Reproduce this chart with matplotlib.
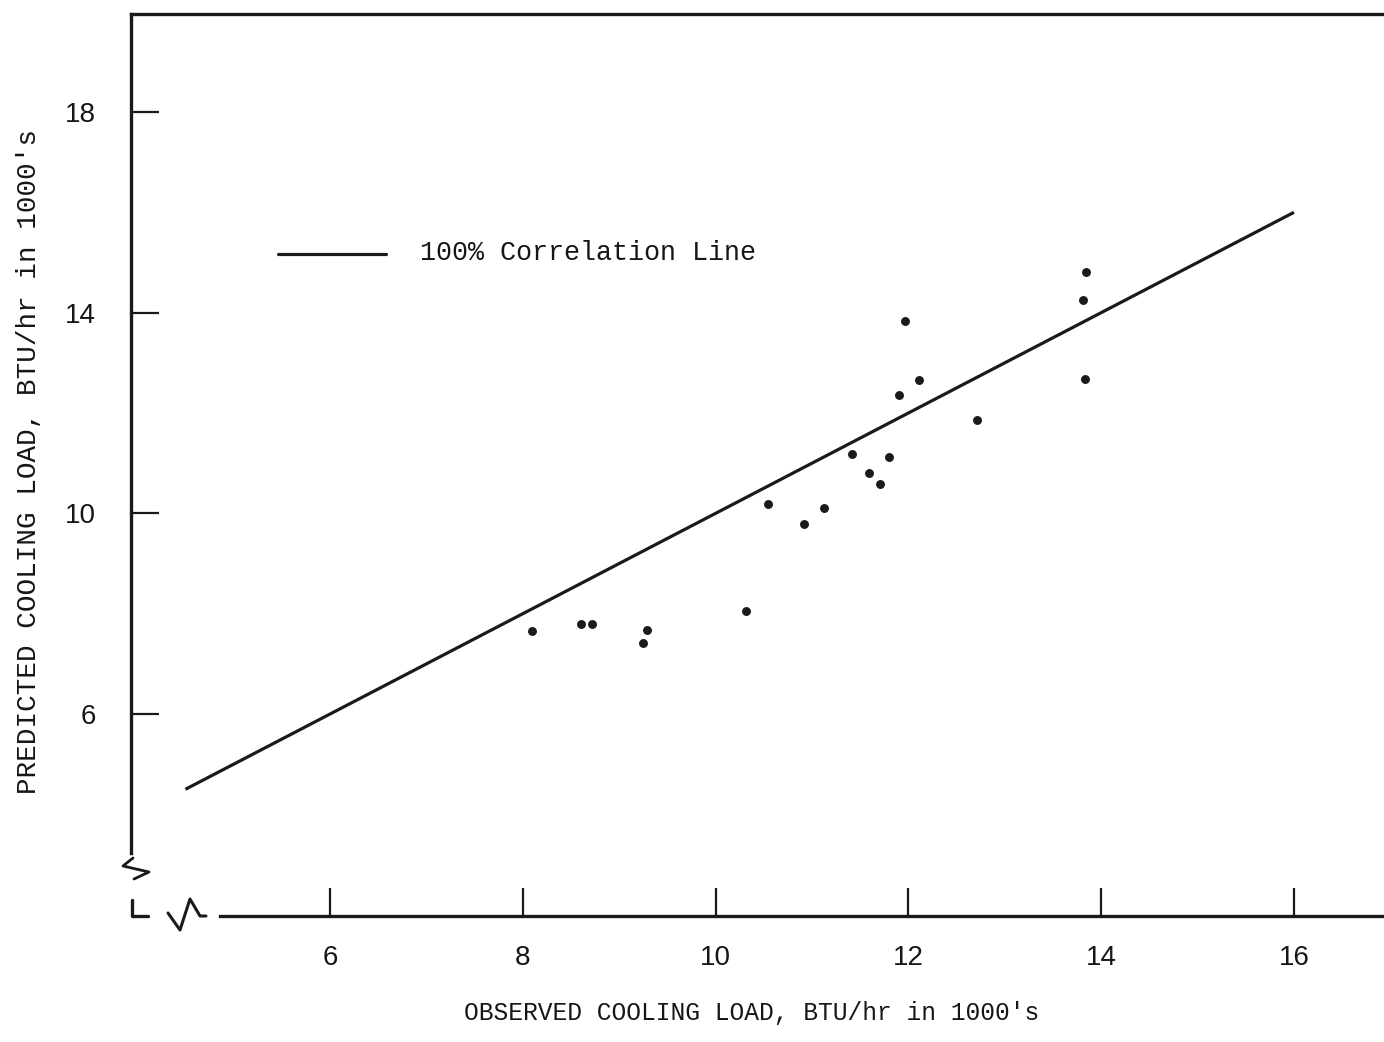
import matplotlib
matplotlib.use("Agg")
import matplotlib.pyplot as plt
from matplotlib.lines import Line2D

# ---- data ----
observed = [8.09, 8.60, 8.72, 9.29, 9.25, 10.32, 10.54, 10.92, 11.12, 11.41,
            11.80, 11.59, 11.71, 12.71, 13.84, 13.81, 13.83, 11.96, 12.11, 11.90]
predicted = [7.66, 7.79, 7.79, 7.67, 7.41, 8.06, 10.18, 9.79, 10.11, 11.18,
             11.12, 10.80, 10.58, 11.86, 14.82, 14.25, 12.68, 13.84, 12.65, 12.36]
corr_line = [4.5, 16.0]
xticks = [6, 8, 10, 12, 14, 16]
yticks = [6, 10, 14, 18]

W, H = 1384, 1042
INK = "#1a1a1a"
TXT = "#161616"
fig = plt.figure(figsize=(W / 100, H / 100), dpi=100)
fig.patch.set_facecolor("white")

def fx(px):
    return px / W

def fy(py):
    return 1 - py / H

# axes box in pixels: left 131, right 1384, top 14, bottom 916
ax = fig.add_axes([fx(131), fy(916), fx(1384 - 131), (916 - 14) / H])
ax.set_xlim(3.935, 16.934)
ax.set_ylim(1.974, 19.953)
ax.set_facecolor("none")

ax.plot(corr_line, corr_line, color=INK, lw=2.3, solid_capstyle="butt")
ax.plot(observed, predicted, "o", color=INK, ms=5.4, mec=INK)

ax.spines["right"].set_visible(False)
for s in ["top", "left", "bottom"]:
    ax.spines[s].set_linewidth(2.4)
    ax.spines[s].set_color(INK)
ax.spines["left"].set_bounds(3.23, 19.953)
ax.spines["bottom"].set_bounds(4.86, 16.934)

ax.set_xticks(xticks)
ax.set_yticks(yticks)
ax.set_xticklabels([str(v) for v in xticks])
ax.set_yticklabels([str(v) for v in yticks])
ax.tick_params(direction="in", length=20, width=1.6, color=INK,
               labelsize=20, labelcolor=TXT)
ax.tick_params(axis="x", pad=21)
ax.tick_params(axis="y", pad=25)
for lab in ax.get_xticklabels() + ax.get_yticklabels():
    lab.set_family("Liberation Sans")

# axis break marks (decoration)
def pline(pts, lw=2.0):
    xs = [fx(p[0]) for p in pts]
    ys = [fy(p[1]) for p in pts]
    fig.add_artist(Line2D(xs, ys, transform=fig.transFigure, color=INK, lw=lw,
                          solid_joinstyle="round", solid_capstyle="round"))

pline([(133, 858), (123, 866), (149, 872), (134, 879)])
pline([(132, 900), (132, 916), (148, 916)], lw=2.4)
pline([(168, 913), (180, 930), (190, 899), (200, 916), (206, 916)], lw=2.2)

# labels
mono = "Liberation Mono"
fig.text(fx(752), fy(1013), "OBSERVED COOLING LOAD, BTU/hr in 1000's",
         ha="center", va="center", family=mono, fontsize=17.7, color=TXT)
fig.text(fx(29), fy(462), "PREDICTED COOLING LOAD, BTU/hr in 1000's",
         ha="center", va="center", rotation=90, family=mono, fontsize=19.9,
         color=TXT)

# legend
pline([(278, 254), (386, 254)], lw=2.3)
fig.text(fx(420), fy(253), "100% Correlation Line", ha="left", va="center",
         family=mono, fontsize=19.3, color=TXT)

fig.savefig("out.png", dpi=100, facecolor="white")
